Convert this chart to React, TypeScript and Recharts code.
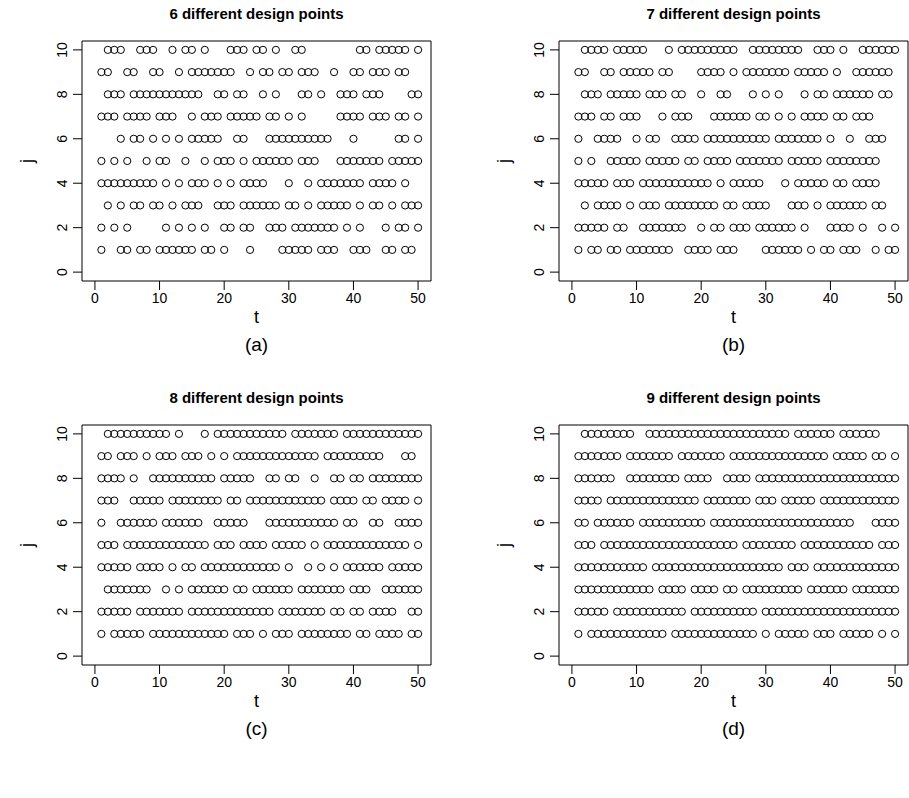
import React from "react";
import {
  ScatterChart,
  Scatter,
  XAxis,
  YAxis,
  ReferenceArea,
} from "recharts";

// t values (1..50) where a design point is present, one list per j (j = 1 .. 10)
const ROWS_6: number[][] = [
  [1, 4, 5, 7, 8, 10, 11, 12, 13, 14, 15, 17, 18, 20, 24, 29, 30, 31, 32, 33, 35, 36, 37, 40, 41, 42, 45, 46, 48, 49],
  [1, 3, 5, 11, 13, 15, 17, 20, 21, 23, 24, 27, 28, 29, 31, 32, 33, 34, 35, 36, 37, 39, 41, 45, 47, 48, 50],
  [2, 4, 6, 7, 9, 10, 12, 14, 15, 16, 19, 20, 21, 23, 24, 25, 26, 27, 28, 30, 31, 33, 35, 36, 37, 38, 39, 41, 43, 44, 46, 48, 49, 50],
  [1, 2, 3, 4, 5, 6, 7, 8, 9, 11, 13, 15, 16, 17, 19, 21, 23, 24, 25, 26, 30, 33, 35, 36, 37, 38, 39, 40, 41, 43, 44, 45, 46, 48],
  [1, 3, 5, 8, 10, 11, 14, 17, 19, 20, 21, 23, 25, 26, 27, 28, 29, 30, 32, 33, 34, 38, 39, 40, 41, 42, 43, 44, 46, 47, 48, 49, 50],
  [4, 6, 7, 9, 11, 13, 15, 16, 17, 18, 19, 22, 23, 27, 28, 29, 30, 31, 32, 33, 34, 35, 36, 40, 47, 48, 50],
  [1, 2, 3, 5, 6, 7, 8, 10, 11, 12, 15, 17, 18, 19, 21, 22, 23, 24, 25, 27, 28, 30, 32, 38, 39, 40, 41, 43, 44, 45, 47, 48, 50],
  [2, 3, 4, 6, 7, 8, 9, 10, 11, 12, 13, 14, 15, 16, 19, 20, 22, 23, 26, 28, 32, 33, 35, 38, 39, 40, 42, 43, 44, 49, 50],
  [1, 2, 5, 6, 9, 10, 13, 15, 16, 17, 18, 19, 20, 21, 24, 26, 27, 29, 30, 32, 33, 34, 37, 40, 41, 43, 44, 45, 47, 48],
  [2, 3, 4, 7, 8, 9, 12, 14, 15, 17, 21, 22, 23, 25, 26, 28, 31, 32, 41, 42, 44, 45, 46, 47, 48, 50],
];

const ROWS_7: number[][] = [
  [1, 3, 4, 6, 7, 9, 10, 11, 12, 13, 14, 15, 18, 19, 20, 21, 23, 24, 25, 30, 31, 32, 33, 34, 35, 37, 39, 40, 42, 43, 44, 47, 49, 50],
  [1, 2, 3, 4, 5, 7, 8, 11, 12, 13, 14, 15, 16, 17, 20, 22, 23, 25, 26, 27, 29, 30, 31, 32, 33, 34, 36, 40, 41, 42, 43, 45, 48, 50],
  [2, 4, 5, 6, 7, 9, 11, 12, 13, 15, 16, 17, 18, 19, 20, 21, 22, 24, 25, 27, 28, 29, 30, 34, 35, 36, 38, 40, 41, 42, 43, 44, 45, 47, 48],
  [1, 2, 3, 4, 5, 7, 8, 9, 11, 12, 13, 14, 15, 16, 17, 18, 19, 20, 21, 23, 25, 26, 27, 28, 29, 33, 35, 36, 37, 38, 39, 41, 42, 44, 45, 46, 47],
  [1, 3, 6, 7, 8, 9, 10, 12, 13, 14, 15, 16, 18, 19, 21, 22, 23, 24, 26, 27, 28, 29, 30, 31, 32, 34, 35, 36, 37, 38, 40, 41, 42, 43, 44, 45, 46, 47],
  [1, 4, 5, 6, 7, 10, 12, 13, 16, 17, 18, 19, 21, 22, 23, 24, 25, 26, 27, 28, 29, 30, 32, 33, 34, 35, 36, 37, 38, 40, 43, 46, 47, 48],
  [1, 2, 3, 5, 6, 8, 9, 10, 14, 16, 17, 18, 22, 23, 24, 25, 26, 27, 29, 30, 32, 34, 36, 37, 38, 39, 41, 42, 44, 45, 46],
  [2, 3, 4, 6, 7, 8, 9, 10, 12, 13, 14, 16, 17, 20, 23, 24, 28, 30, 32, 36, 38, 39, 41, 42, 43, 44, 45, 46, 48, 49],
  [1, 2, 5, 6, 8, 9, 10, 11, 12, 14, 15, 20, 21, 22, 23, 25, 27, 28, 29, 30, 31, 32, 33, 35, 36, 37, 38, 39, 41, 44, 45, 46, 47, 48, 49],
  [2, 3, 4, 5, 7, 8, 9, 10, 11, 15, 17, 18, 19, 20, 21, 22, 23, 24, 25, 28, 29, 30, 31, 32, 33, 34, 35, 38, 39, 40, 42, 45, 46, 47, 48, 49, 50],
];

const ROWS_8: number[][] = [
  [1, 3, 4, 5, 6, 7, 9, 10, 11, 12, 13, 14, 15, 16, 17, 18, 19, 20, 22, 23, 24, 26, 28, 29, 30, 32, 33, 34, 35, 36, 37, 38, 39, 41, 42, 44, 45, 46, 47, 49, 50],
  [1, 2, 3, 4, 5, 7, 8, 9, 10, 11, 12, 13, 15, 16, 17, 18, 19, 20, 21, 22, 23, 24, 25, 26, 27, 29, 30, 31, 32, 33, 34, 35, 37, 38, 40, 41, 43, 44, 45, 46, 49, 50],
  [2, 3, 4, 5, 6, 7, 8, 11, 13, 15, 16, 17, 18, 19, 20, 22, 23, 25, 26, 27, 28, 29, 30, 32, 33, 34, 35, 36, 37, 38, 40, 41, 42, 45, 46, 47, 48, 49, 50],
  [1, 2, 3, 4, 5, 7, 8, 9, 10, 12, 14, 15, 17, 18, 19, 20, 21, 22, 23, 24, 25, 26, 27, 28, 30, 33, 35, 37, 39, 40, 41, 42, 43, 44, 46, 47, 48, 49, 50],
  [1, 2, 3, 5, 6, 7, 8, 9, 10, 11, 12, 13, 14, 15, 16, 17, 19, 20, 21, 23, 24, 25, 26, 28, 29, 30, 31, 32, 34, 36, 37, 38, 39, 40, 41, 42, 43, 44, 45, 46, 47, 48, 50],
  [1, 4, 5, 6, 7, 8, 9, 11, 12, 13, 14, 15, 16, 19, 20, 21, 22, 23, 27, 28, 29, 30, 31, 32, 33, 34, 35, 36, 37, 39, 40, 43, 44, 47, 48, 49, 50],
  [1, 2, 3, 6, 7, 8, 9, 10, 12, 13, 14, 15, 16, 17, 18, 19, 21, 22, 24, 25, 26, 27, 28, 29, 30, 31, 32, 33, 34, 35, 37, 38, 39, 40, 42, 43, 45, 46, 47, 48, 50],
  [1, 2, 3, 4, 6, 9, 10, 11, 12, 13, 14, 15, 16, 17, 18, 20, 21, 22, 23, 24, 27, 28, 30, 31, 34, 37, 38, 40, 41, 43, 44, 45, 46, 47, 48, 49, 50],
  [1, 2, 4, 5, 6, 8, 10, 11, 12, 14, 15, 16, 18, 20, 22, 23, 24, 25, 26, 27, 28, 29, 30, 31, 32, 33, 34, 36, 37, 38, 39, 40, 41, 42, 43, 44, 48, 49],
  [2, 3, 4, 5, 6, 7, 8, 9, 10, 11, 13, 17, 19, 20, 21, 22, 23, 24, 25, 26, 27, 28, 29, 31, 32, 33, 34, 35, 36, 37, 39, 40, 41, 42, 43, 44, 45, 46, 47, 48, 49, 50],
];

const ROWS_9: number[][] = [
  [1, 3, 4, 5, 6, 7, 8, 9, 10, 11, 12, 13, 14, 16, 17, 18, 19, 20, 21, 22, 23, 24, 25, 26, 27, 28, 30, 32, 33, 34, 35, 36, 38, 39, 40, 42, 43, 44, 45, 46, 48, 50],
  [1, 2, 3, 4, 5, 7, 8, 9, 10, 11, 12, 13, 14, 15, 16, 17, 19, 20, 21, 22, 23, 24, 25, 26, 27, 28, 30, 31, 32, 33, 34, 35, 36, 37, 38, 39, 40, 41, 42, 43, 44, 45, 46, 47, 48, 49, 50],
  [1, 2, 3, 4, 5, 6, 7, 8, 9, 10, 11, 12, 14, 15, 16, 17, 19, 20, 21, 22, 24, 25, 27, 28, 29, 30, 31, 32, 33, 34, 35, 37, 38, 39, 40, 41, 42, 44, 45, 46, 47, 48, 49, 50],
  [1, 2, 3, 4, 5, 6, 7, 8, 9, 10, 11, 13, 14, 15, 16, 17, 18, 19, 20, 21, 22, 23, 24, 25, 26, 27, 28, 29, 30, 31, 32, 34, 35, 36, 38, 39, 40, 41, 42, 43, 44, 45, 46, 47, 48, 49, 50],
  [1, 2, 3, 5, 6, 7, 8, 9, 10, 11, 12, 13, 14, 15, 16, 17, 18, 19, 20, 21, 22, 23, 24, 25, 27, 28, 29, 30, 31, 32, 33, 34, 36, 37, 38, 39, 40, 41, 42, 43, 44, 45, 46, 48, 49, 50],
  [1, 2, 4, 5, 6, 7, 8, 9, 11, 12, 13, 14, 15, 16, 17, 18, 19, 20, 22, 23, 24, 25, 26, 27, 28, 29, 30, 31, 32, 33, 34, 35, 36, 37, 38, 39, 40, 41, 42, 43, 47, 48, 49, 50],
  [1, 2, 3, 4, 6, 7, 8, 9, 10, 11, 12, 13, 14, 15, 16, 17, 18, 19, 21, 22, 23, 24, 25, 26, 27, 29, 30, 31, 33, 34, 35, 36, 37, 39, 40, 41, 42, 43, 44, 45, 46, 47, 48, 49, 50],
  [1, 2, 3, 4, 5, 6, 9, 10, 11, 12, 13, 14, 15, 16, 18, 19, 20, 21, 24, 25, 26, 27, 29, 30, 31, 32, 33, 34, 35, 36, 37, 38, 39, 40, 41, 42, 43, 44, 45, 46, 47, 48, 49, 50],
  [1, 2, 3, 4, 5, 6, 7, 9, 10, 11, 12, 13, 14, 15, 17, 18, 19, 20, 21, 22, 23, 25, 26, 27, 28, 29, 30, 31, 32, 33, 34, 35, 36, 37, 38, 39, 41, 42, 43, 44, 45, 47, 48, 50],
  [2, 3, 4, 5, 6, 7, 8, 9, 12, 13, 14, 15, 16, 17, 18, 19, 20, 21, 22, 23, 24, 25, 26, 27, 28, 29, 30, 31, 32, 33, 35, 36, 37, 38, 39, 40, 42, 43, 44, 45, 46, 47],
];

const J_LEVELS = [1, 2, 3, 4, 5, 6, 7, 8, 9, 10];
const X_TICKS = [0, 10, 20, 30, 40, 50];
const Y_TICKS = [0, 2, 4, 6, 8, 10];

const FONT = '"Liberation Sans", Arial, Helvetica, sans-serif';

const toPoints = (rows: number[][]) =>
  rows.flatMap((ts, i) => ts.map((t) => ({ t, j: J_LEVELS[i] })));

const OpenCircle = (props: any) => {
  const { cx, cy } = props;
  if (cx == null || cy == null) return null;
  return <circle cx={cx} cy={cy} r={3.6} fill="none" stroke="#000" strokeWidth={1} />;
};

const YTick = (props: any) => {
  const { x, y, payload } = props;
  return (
    <text
      x={x}
      y={y}
      transform={`rotate(-90 ${x} ${y})`}
      textAnchor="middle"
      fontSize={14}
      fontFamily={FONT}
      fill="#000"
    >
      {payload.value}
    </text>
  );
};

// plot box geometry (page px)
const PLOT_W = 349;
const PLOT_LEFT = 82; // offset of plot box inside each chart
const CHART_H = 380;

interface PanelProps {
  rows: number[][];
  title: string;
  caption: string;
  left: number;
  top: number;
  width: number;
}

const Panel = ({ rows, title, caption, left, top, width }: PanelProps) => {
  const data = toPoints(rows);
  const boxLeft = left + PLOT_LEFT;
  return (
    <>
      <div style={{ position: "absolute", left, top }}>
        <ScatterChart
          width={width}
          height={CHART_H}
          margin={{ top: 41, right: width - PLOT_LEFT - PLOT_W, bottom: 59, left: 12 }}
        >
          <XAxis
            type="number"
            dataKey="t"
            domain={[-2, 52]}
            ticks={X_TICKS}
            allowDataOverflow
            axisLine={false}
            tickLine={{ stroke: "#000" }}
            tickSize={9}
            tickMargin={3}
            height={40}
            tick={{ fill: "#000", fontSize: 14, fontFamily: FONT }}
          />
          <YAxis
            type="number"
            dataKey="j"
            domain={[-0.4, 10.4]}
            ticks={Y_TICKS}
            allowDataOverflow
            axisLine={false}
            tickLine={{ stroke: "#000" }}
            tickSize={9}
            tickMargin={6}
            width={70}
            tick={<YTick />}
          />
          <ReferenceArea
            x1={-2}
            x2={52}
            y1={-0.4}
            y2={10.4}
            fill="none"
            fillOpacity={0}
            stroke="#000"
            strokeWidth={1}
          />
          <Scatter data={data} shape={<OpenCircle />} isAnimationActive={false} />
        </ScatterChart>
      </div>
      <div
        style={{
          position: "absolute",
          left: boxLeft,
          top: top + 4,
          width: PLOT_W,
          textAlign: "center",
          fontFamily: FONT,
          fontWeight: "bold",
          fontSize: 15,
          lineHeight: "20px",
        }}
      >
        {title}
      </div>
      <div
        style={{
          position: "absolute",
          left: boxLeft,
          top: top + 306,
          width: PLOT_W,
          textAlign: "center",
          fontFamily: FONT,
          fontSize: 18,
          lineHeight: "22px",
        }}
      >
        t
      </div>
      <div
        style={{
          position: "absolute",
          left: boxLeft,
          top: top + 333,
          width: PLOT_W,
          textAlign: "center",
          fontFamily: FONT,
          fontSize: 19,
          lineHeight: "24px",
        }}
      >
        {caption}
      </div>
      <div
        style={{
          position: "absolute",
          left: left + 27 - 20,
          top: top + 161 - 11,
          width: 40,
          textAlign: "center",
          fontFamily: FONT,
          fontSize: 18,
          lineHeight: "22px",
          transform: "rotate(-90deg)",
        }}
      >
        j
      </div>
    </>
  );
};

export default function App() {
  return (
    <div
      style={{
        position: "absolute",
        left: 0,
        top: 0,
        width: 909,
        height: 798,
        background: "#fff",
        overflow: "hidden",
      }}
    >
      <Panel rows={ROWS_6} title="6 different design points" caption="(a)" left={0} top={0} width={450} />
      <Panel rows={ROWS_7} title="7 different design points" caption="(b)" left={477} top={0} width={432} />
      <Panel rows={ROWS_8} title="8 different design points" caption="(c)" left={0} top={384} width={450} />
      <Panel rows={ROWS_9} title="9 different design points" caption="(d)" left={477} top={384} width={432} />
    </div>
  );
}
